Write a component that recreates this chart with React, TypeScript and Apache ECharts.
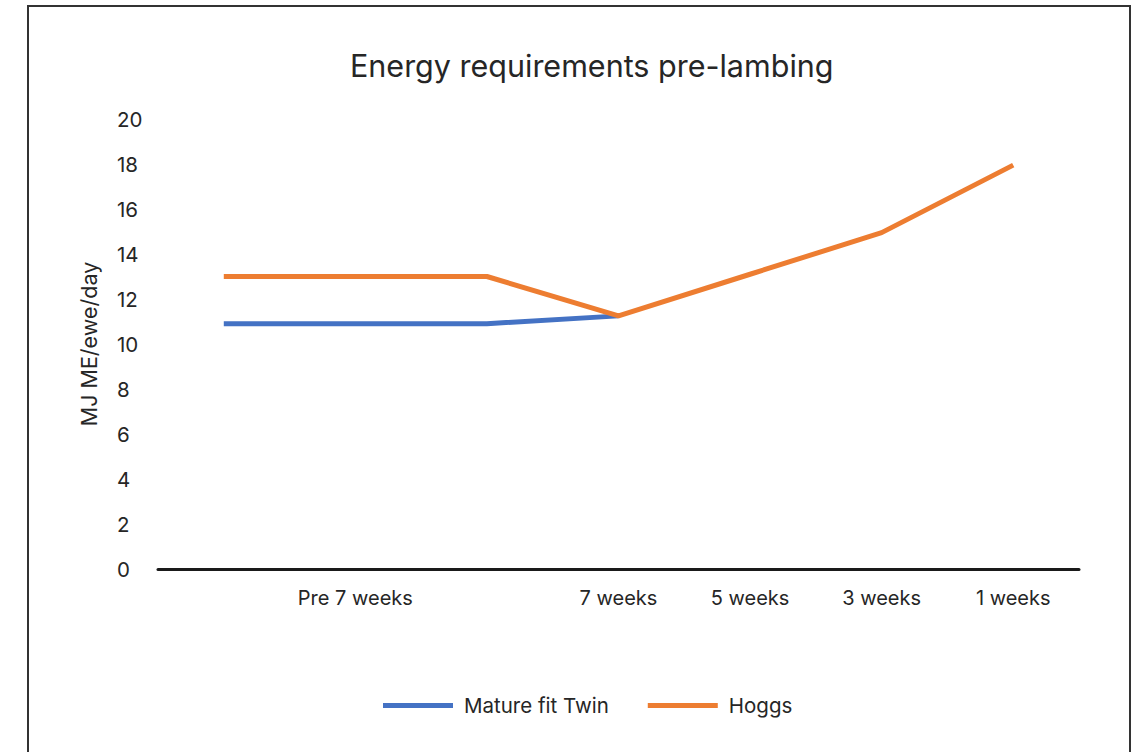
import React, { useEffect, useRef } from "react";
import * as echarts from "echarts";

const title = "Energy requirements pre-lambing";
const categories = ["", "Pre 7 weeks", "", "7 weeks", "5 weeks", "3 weeks", "1 weeks"];
const matureFitTwin = [10.9, 10.9, 10.9, 11.25, null, null, null];
const hoggs = [13, 13, 13, 11.25, 13.1, 14.95, 17.95];
const seriesNames = ["Mature fit Twin", "Hoggs"];
const yAxisName = "MJ ME/ewe/day";

const FONT = "Inter, 'Noto Sans', sans-serif";
const TEXT = "#262626";

export default function App() {
  const ref = useRef<HTMLDivElement>(null);
  useEffect(() => {
    const chart = echarts.init(ref.current!, null, { renderer: "svg" });
    chart.setOption({
      animation: false,
      backgroundColor: "#fff",
      textStyle: { fontFamily: FONT, color: TEXT },
      title: {
        text: title,
        left: 345,
        top: 45,
        textStyle: { fontSize: 30.5, fontWeight: "normal", color: TEXT, fontFamily: FONT },
      },
      graphic: [
        {
          type: "rect",
          shape: { x: 28, y: 6, width: 1102, height: 770 },
          style: { fill: "none", stroke: "#333", lineWidth: 2 },
          silent: true,
        },
      ],
      legend: {
        left: 378,
        top: 690,
        icon: "rect",
        itemWidth: 70,
        itemHeight: 5,
        itemGap: 39,
        textStyle: { fontSize: 20.5, color: TEXT, fontFamily: FONT, padding: [0, 0, 0, 6] },
        data: seriesNames,
      },
      grid: { left: 158, right: 56, top: 119, bottom: 752 - 569 },
      xAxis: {
        type: "category",
        data: categories,
        boundaryGap: true,
        axisTick: { show: false },
        axisLine: { lineStyle: { color: "#1a1a1a", width: 3 } },
        axisLabel: { fontSize: 20, color: TEXT, margin: 19, fontFamily: FONT, interval: 0 },
        splitLine: { show: false },
      },
      yAxis: {
        type: "value",
        min: 0,
        max: 20,
        interval: 2,
        name: yAxisName,
        nameLocation: "middle",
        nameGap: 58,
        nameTextStyle: { fontSize: 21.5, color: TEXT, fontFamily: FONT },
        axisLine: { show: false },
        axisTick: { show: false },
        splitLine: { show: false },
        axisLabel: { fontSize: 20.5, color: TEXT, align: "left", margin: 41, fontFamily: FONT },
      },
      series: [
        {
          name: seriesNames[0],
          type: "line",
          data: matureFitTwin,
          showSymbol: false,
          symbol: "none",
          lineStyle: { width: 5, color: "#4472C4", cap: "butt" },
          itemStyle: { color: "#4472C4" },
        },
        {
          name: seriesNames[1],
          type: "line",
          data: hoggs,
          showSymbol: false,
          symbol: "none",
          lineStyle: { width: 5, color: "#ED7D31", cap: "butt" },
          itemStyle: { color: "#ED7D31" },
        },
      ],
    });
    return () => chart.dispose();
  }, []);
  return (
    <div
      ref={ref}
      style={{ position: "absolute", left: 0, top: 0, width: 1135, height: 752 }}
    />
  );
}
